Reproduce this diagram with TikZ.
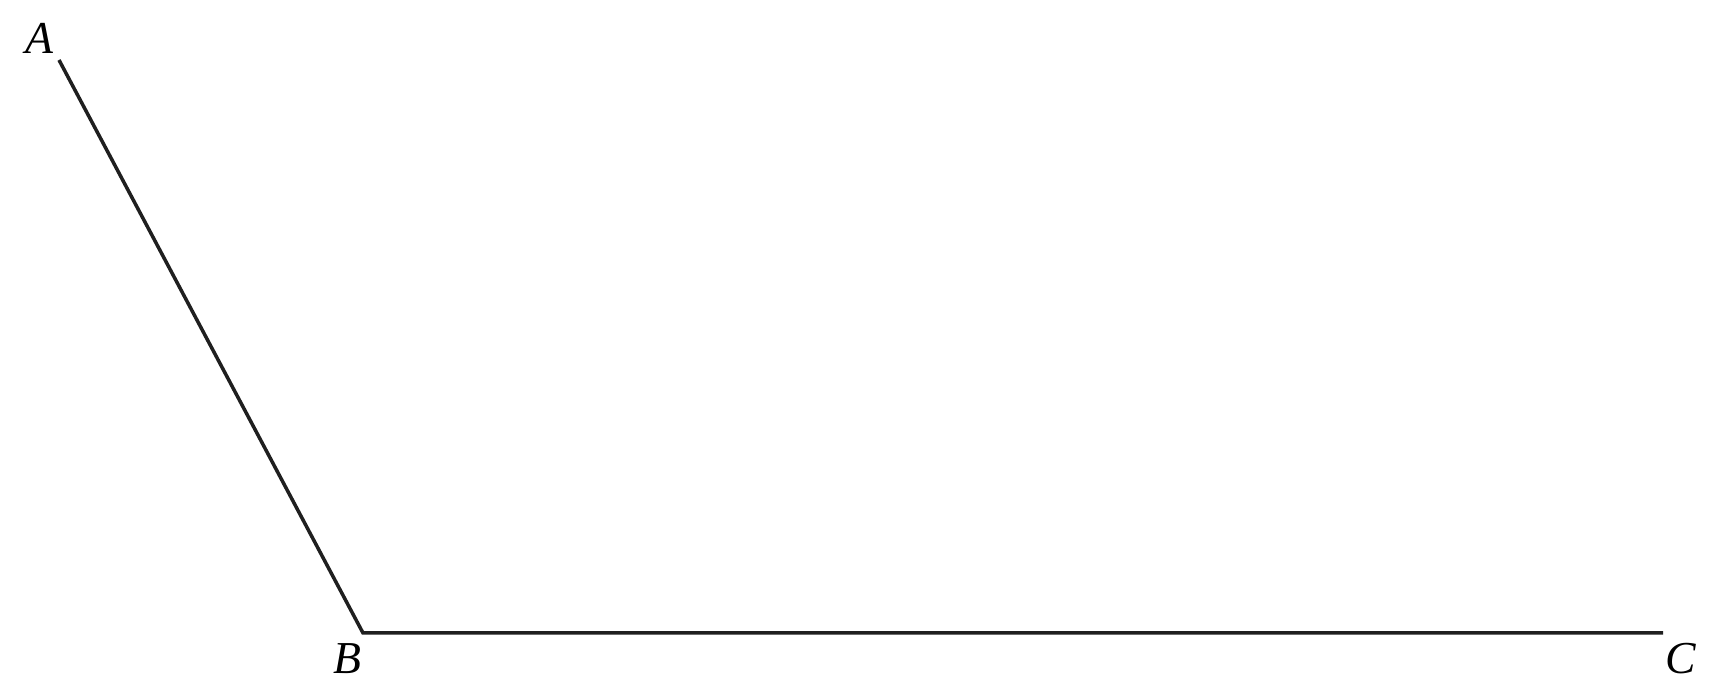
\documentclass[tikz,border=0pt]{standalone}
\usepackage{fontspec}
\setmainfont{Liberation Serif}
\usetikzlibrary{positioning}

\begin{document}
\begin{tikzpicture}[
    side/.style={line width=1pt, draw=black!88},
    vlabel/.style={font=\fontsize{13}{15}\selectfont\itshape, inner sep=0pt}
]
    \useasboundingbox (0,0) rectangle (17.19,6.99);
    \coordinate (A) at (0.59, 6.39);
    \coordinate (B) at (3.63, 0.66);
    \coordinate (C) at (16.63, 0.66);
    \node[vlabel] (labA) at (0.39, 6.61) {A};
    \node[vlabel] (labB) at (3.47, 0.40) {B};
    \node[vlabel] (labC) at (16.81, 0.40) {C};
    \draw[side] (A) -- (B) -- (C);
\end{tikzpicture}
\end{document}
